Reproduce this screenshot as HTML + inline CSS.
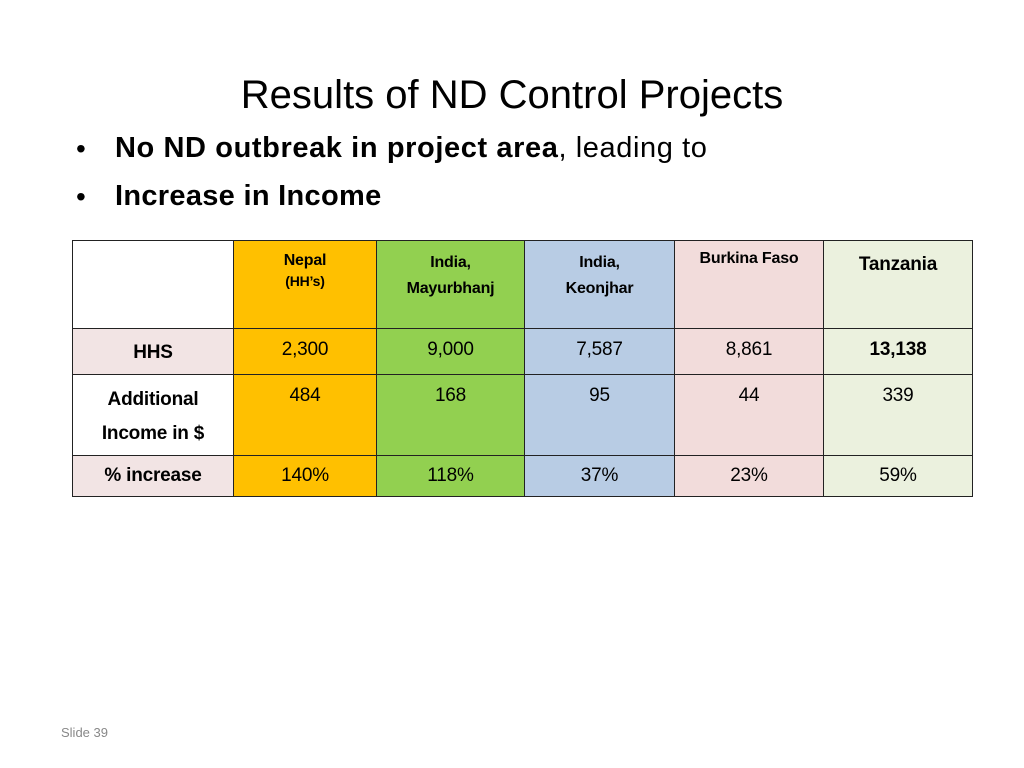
<!DOCTYPE html>
<html><head><meta charset="utf-8"><style>
body{margin:0;width:1024px;height:768px;background:#fff;font-family:"Liberation Sans",sans-serif;position:relative;overflow:hidden;color:#000}
.t{position:absolute;white-space:nowrap}
.c{position:absolute;box-sizing:border-box;border:1.5px solid #222;text-align:center;font-size:19px;letter-spacing:-0.2px}
</style></head><body>
<div class="t" style="left:0;width:1024px;text-align:center;top:73px;font-size:40px">Results of ND Control Projects</div>
<div class="t" style="left:76px;top:133px;font-size:28px">•</div>
<div class="t" style="left:115px;top:132px;font-size:29px;letter-spacing:0.6px"><b>No ND outbreak in project area</b>, leading to</div>
<div class="t" style="left:76px;top:181px;font-size:28px">•</div>
<div class="t" style="left:115px;top:180px;font-size:29px;letter-spacing:0.3px"><b>Increase in Income</b></div>

<div class="c" style="left:72px;top:240px;width:162px;height:89px;background:#fff"></div>
<div class="c" style="left:233px;top:240px;width:144px;height:89px;background:#FFC000;font-size:16px;font-weight:bold;padding-top:10px;line-height:20px">Nepal<br><span style="font-size:14px">(HH’s)</span></div>
<div class="c" style="left:376px;top:240px;width:149px;height:89px;background:#92D050;font-size:16px;font-weight:bold;padding-top:9px;line-height:26px">India,<br>Mayurbhanj</div>
<div class="c" style="left:524px;top:240px;width:151px;height:89px;background:#B8CCE4;font-size:16px;font-weight:bold;padding-top:9px;line-height:26px">India,<br>Keonjhar</div>
<div class="c" style="left:674px;top:240px;width:150px;height:89px;background:#F2DCDB;font-size:16px;font-weight:bold;padding-top:9px">Burkina Faso</div>
<div class="c" style="left:823px;top:240px;width:150px;height:89px;background:#EBF1DE;font-size:19px;font-weight:bold;padding-top:13px">Tanzania</div>

<div class="c" style="left:72px;top:328px;width:162px;height:47px;background:#F2E4E4;font-weight:bold;padding-top:13px">HHS</div>
<div class="c" style="left:233px;top:328px;width:144px;height:47px;background:#FFC000;padding-top:10px">2,300</div>
<div class="c" style="left:376px;top:328px;width:149px;height:47px;background:#92D050;padding-top:10px">9,000</div>
<div class="c" style="left:524px;top:328px;width:151px;height:47px;background:#B8CCE4;padding-top:10px">7,587</div>
<div class="c" style="left:674px;top:328px;width:150px;height:47px;background:#F2DCDB;padding-top:10px">8,861</div>
<div class="c" style="left:823px;top:328px;width:150px;height:47px;background:#EBF1DE;padding-top:10px;font-weight:bold">13,138</div>

<div class="c" style="left:72px;top:374px;width:162px;height:82px;background:#fff;font-weight:bold;padding-top:8px;line-height:34px">Additional<br>Income in $</div>
<div class="c" style="left:233px;top:374px;width:144px;height:82px;background:#FFC000;padding-top:10px">484</div>
<div class="c" style="left:376px;top:374px;width:149px;height:82px;background:#92D050;padding-top:10px">168</div>
<div class="c" style="left:524px;top:374px;width:151px;height:82px;background:#B8CCE4;padding-top:10px">95</div>
<div class="c" style="left:674px;top:374px;width:150px;height:82px;background:#F2DCDB;padding-top:10px">44</div>
<div class="c" style="left:823px;top:374px;width:150px;height:82px;background:#EBF1DE;padding-top:10px">339</div>

<div class="c" style="left:72px;top:455px;width:162px;height:42px;background:#F2E4E4;font-weight:bold;padding-top:9px">% increase</div>
<div class="c" style="left:233px;top:455px;width:144px;height:42px;background:#FFC000;padding-top:9px">140%</div>
<div class="c" style="left:376px;top:455px;width:149px;height:42px;background:#92D050;padding-top:9px">118%</div>
<div class="c" style="left:524px;top:455px;width:151px;height:42px;background:#B8CCE4;padding-top:9px">37%</div>
<div class="c" style="left:674px;top:455px;width:150px;height:42px;background:#F2DCDB;padding-top:9px">23%</div>
<div class="c" style="left:823px;top:455px;width:150px;height:42px;background:#EBF1DE;padding-top:9px">59%</div>

<div class="t" style="left:61px;top:725px;font-size:13px;color:#888">Slide 39</div>
</body></html>
